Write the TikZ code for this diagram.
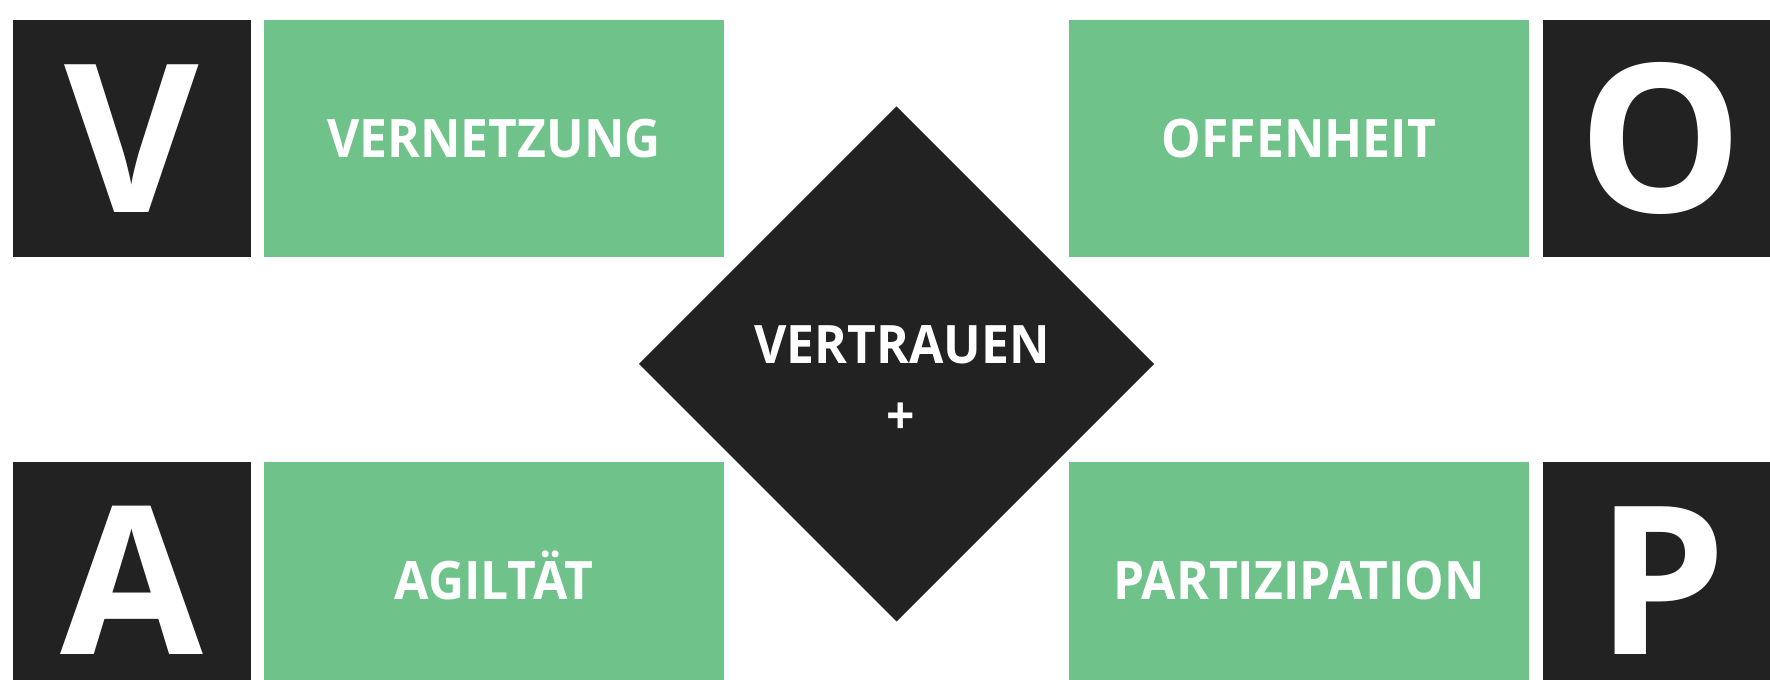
\documentclass[tikz,border=0pt]{standalone}
\usepackage{fontspec}
\setmainfont{Open Sans}
\newfontfamily\labelfont{Open Sans}[FakeStretch=0.94]
\usetikzlibrary{shapes.geometric}
\definecolor{darkbox}{HTML}{222222}
\definecolor{greenbox}{HTML}{6EC28A}
\tikzset{
  letterbox/.style={fill=darkbox, text=white, inner sep=0pt, outer sep=0pt,
    minimum width=237bp, minimum height=237.5bp,
    font=\bfseries\fontsize{207bp}{207bp}\selectfont,
    text height=148bp, text depth=0pt},
  labelbox/.style={fill=greenbox, text=white, inner sep=0pt, outer sep=0pt,
    minimum width=460bp, minimum height=237.5bp,
    font=\labelfont\bfseries\fontsize{53bp}{60bp}\selectfont,
    text height=38bp, text depth=0pt},
  centerbox/.style={diamond, aspect=1, fill=darkbox, inner sep=0pt, outer sep=0pt,
    minimum width=515bp, minimum height=515bp},
  centertext/.style={text=white, inner sep=0pt,
    font=\labelfont\bfseries\fontsize{53bp}{60bp}\selectfont}
}
\begin{document}
\begin{tikzpicture}[x=1bp,y=1bp]
\useasboundingbox (0,0) rectangle (1770,680);
\clip (0,0) rectangle (1770,680);
% top row
\node[letterbox] (V) at (132,541.25) {V};
\node[labelbox] (vern) at (494,541.25) {VERNETZUNG};
\node[labelbox] (offen) at (1299,541.25) {OFFENHEIT};
\node[letterbox] (O) at (1661,541.25) {O};
% bottom row
\node[letterbox] (A) at (132,99.25) {A};
\node[labelbox] (agil) at (494,99.25) {AGILTÄT};
\node[labelbox] (partiz) at (1299,99.25) {PARTIZIPATION};
\node[letterbox] (P) at (1661,99.25) {P};
% centre
\node[centerbox] (vt) at (896.5,316) {};
\node[centertext, anchor=base] (vtitle) at ([xshift=5.5bp]vt.center) {VERTRAUEN};
\node[centertext] (vplus) at ([xshift=4.5bp,yshift=-54.6bp]vt.center) {+};
\end{tikzpicture}
\end{document}
